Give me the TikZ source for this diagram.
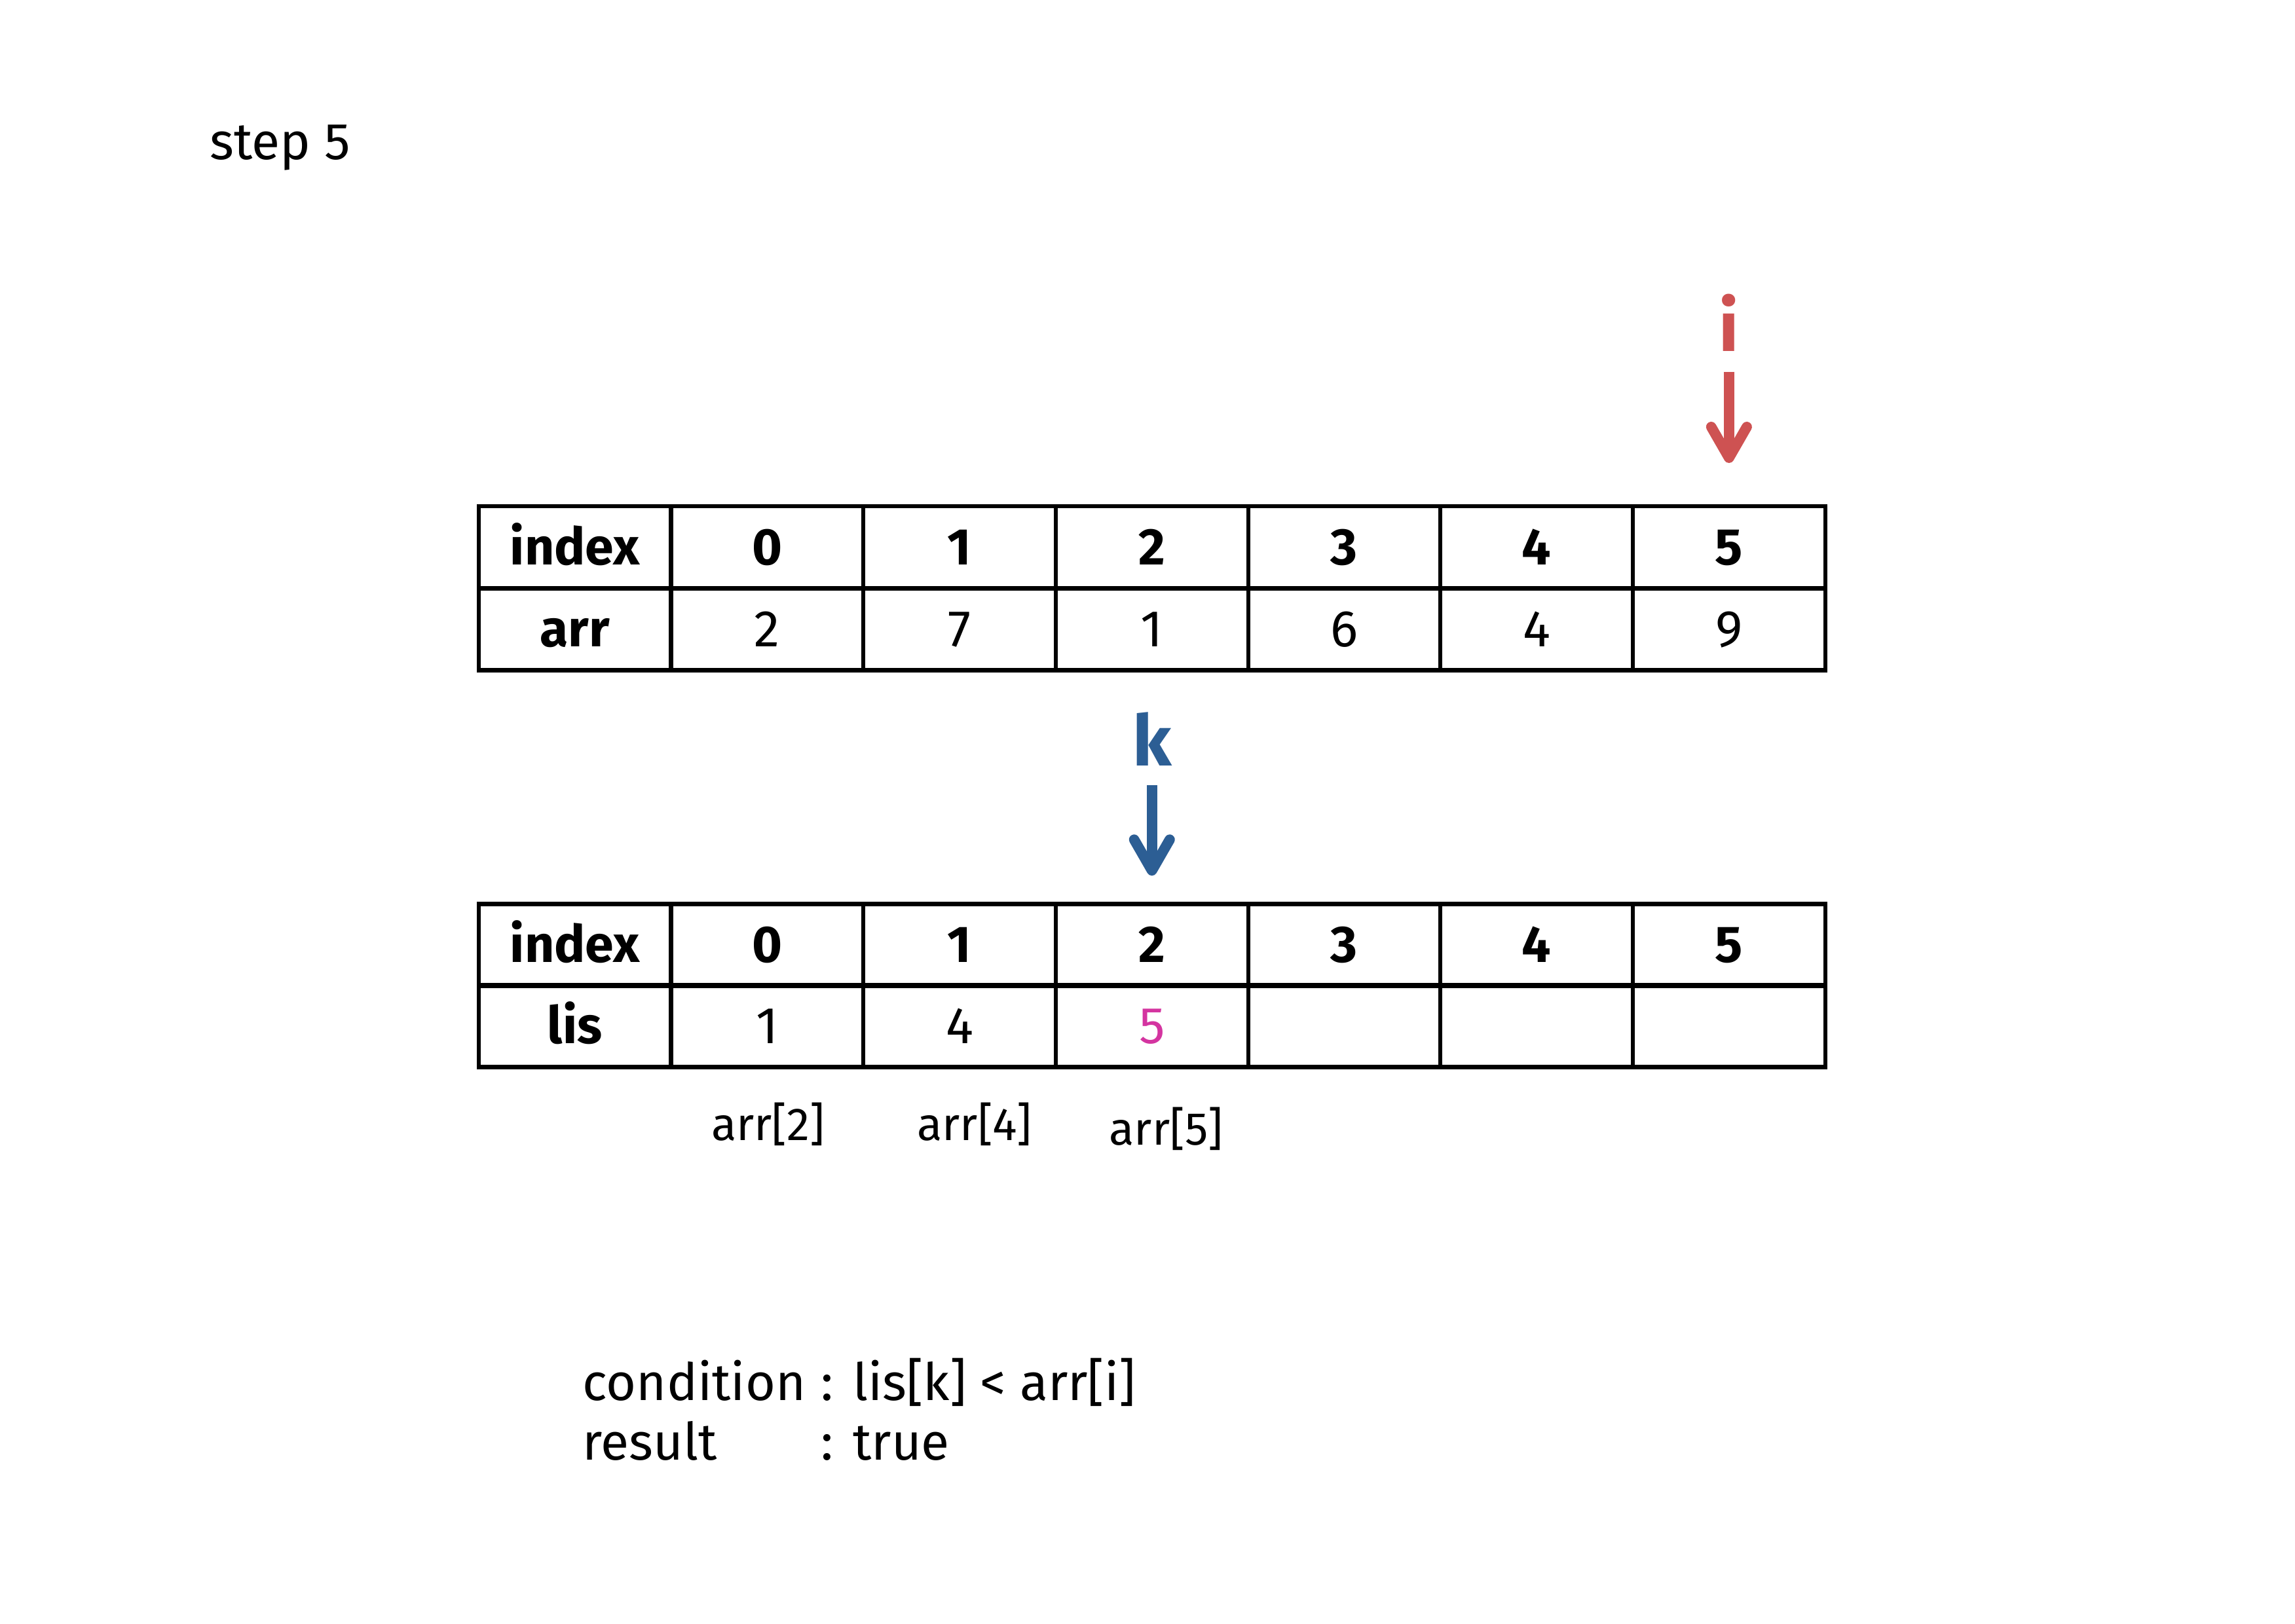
\documentclass[tikz,border=0pt]{standalone}
\usepackage{fontspec}
\setmainfont{Fira Sans}
\usetikzlibrary{positioning,arrows.meta}
\definecolor{PtrRed}{RGB}{206,82,82}
\definecolor{PtrBlue}{RGB}{44,94,148}
\definecolor{NewPink}{RGB}{212,52,160}

\begin{document}
\begin{tikzpicture}[
    font=\fontsize{19}{22}\selectfont,
    cell/.style={
        draw,
        line width=1.5pt,
        minimum width=2.4894cm,
        minimum height=1.06cm,
        inner sep=0pt,
        text height=13pt,
        text depth=0pt
    },
    head/.style={cell, font=\fontsize{19}{22}\selectfont\bfseries},
    ptrlabel/.style={inner sep=0pt, text depth=0pt, font=\fontsize{26}{30}\selectfont\bfseries},
    ptr/.style={line width=3.8pt, -{Straight Barb[round, length=4mm, width=4.6mm]}},
    src/.style={anchor=base, inner sep=0pt, font=\fontsize{17}{20}\selectfont}
]
\useasboundingbox (0,0) rectangle (29.7,21.012);

\node[anchor=base west, inner sep=0pt] (title) at (2.71,18.95) {step 5};

% arr table
\node[head] (arrih) at (7.439,13.928) {index};
\node[head] (arrh) at (7.439,12.867) {arr};
\foreach \v [count=\j from 0] in {2,7,1,6,4,9} {
    \node[head] (arri\j) at ({7.439+2.4894*(\j+1)},13.928) {\j};
    \node[cell] (arr\j) at ({7.439+2.4894*(\j+1)},12.867) {\v};
}

% lis table
\node[head] (lisih) at (7.439,8.781) {index};
\node[head] (lish) at (7.439,7.731) {lis};
\foreach \v [count=\j from 0] in {1,4,{\color{NewPink}5},{},{},{}} {
    \node[head] (lisi\j) at ({7.439+2.4894*(\j+1)},8.781) {\j};
    \node[cell] (lis\j) at ({7.439+2.4894*(\j+1)},7.731) {\v};
}

% pointers
\node[ptrlabel, text=PtrRed, above=1.976cm of arri5] (ilab) {i};
\draw[ptr, draw=PtrRed, shorten <=0.26cm, shorten >=0.535cm] (ilab) -- (arri5);

\node[ptrlabel, text=PtrBlue, above=1.755cm of lisi2] (klab) {k};
\draw[ptr, draw=PtrBlue, shorten <=0.246cm, shorten >=0.34cm] (klab) -- (lisi2);

\node[src] (src0) at (9.94,6.25) {arr[2]};
\node[src] (src1) at (12.61,6.25) {arr[4]};
\node[src] (src2) at (15.09,6.19) {arr[5]};

\node[anchor=base west, inner sep=0pt] (cond) at (7.535,2.89)
{\begin{tabular}[t]{@{}l@{\hspace{0.2cm}}l@{}}
condition & :\hspace{0.25cm}lis[k] < arr[i]\\
result & :\hspace{0.25cm}true
\end{tabular}};

\end{tikzpicture}
\end{document}
